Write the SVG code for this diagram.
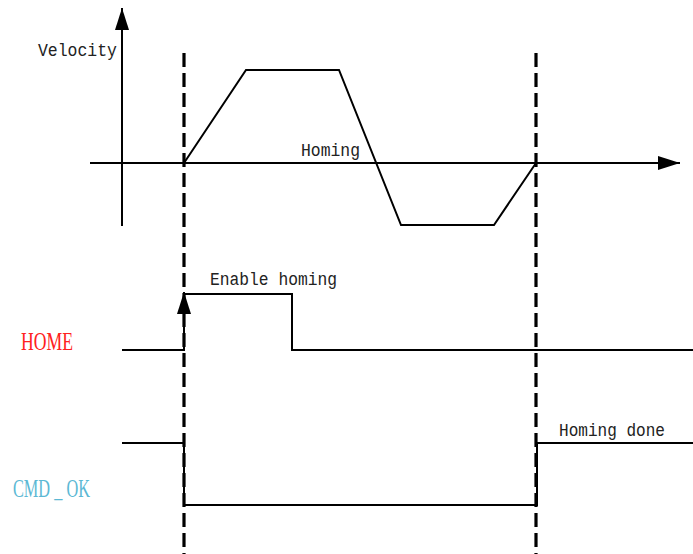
<svg xmlns="http://www.w3.org/2000/svg" width="693" height="554" viewBox="0 0 693 554">
<style>
.ln{fill:none;stroke:#000;stroke-width:2}
.ds{fill:none;stroke:#000;stroke-width:3.2;stroke-dasharray:14 6}
.t{font-family:"Liberation Mono",monospace;font-size:19px;fill:#222}
.lbl{font-family:"Liberation Serif",serif;font-size:26px}
</style>
<defs>
<marker id="ah" viewBox="0 0 22 14" refX="22" refY="7" markerWidth="22" markerHeight="14" markerUnits="userSpaceOnUse" orient="auto">
<path d="M0,0 L22,7 L0,14 Z" fill="#000"/>
</marker>
</defs>
<rect width="693" height="554" fill="#fff"/>
<g id="connectors">
<line class="ln" x1="122" y1="226" x2="122" y2="8" marker-end="url(#ah)"/>
<line class="ln" x1="90" y1="163" x2="680" y2="163" marker-end="url(#ah)"/>
<polyline class="ln" points="184,163 246,70 339,70 401,225 494,225 536,163"/>
<polyline class="ln" points="122,350 184,350 184,294 292,294 292,350 693,350"/>
<line class="ln" x1="184" y1="330" x2="184" y2="292" marker-end="url(#ah)"/>
<polyline class="ln" points="122,443 184,443 184,505 537,505 537,443 693,443"/>
<line class="ds" x1="184" y1="53" x2="184" y2="554"/>
<line class="ds" x1="536" y1="53" x2="536" y2="554"/>
</g>
<g id="labels">
<text class="t" x="38" y="56" textLength="79" lengthAdjust="spacingAndGlyphs">Velocity</text>
<text class="t" x="301" y="156" textLength="59" lengthAdjust="spacingAndGlyphs">Homing</text>
<text class="t" x="210" y="285" textLength="127" lengthAdjust="spacingAndGlyphs">Enable homing</text>
<text class="t" x="559" y="436" textLength="106" lengthAdjust="spacingAndGlyphs">Homing done</text>
<text class="lbl" x="21" y="350" fill="#ff2020" textLength="52" lengthAdjust="spacingAndGlyphs">HOME</text>
<text class="lbl" x="13" y="497" fill="#5bb8d4" font-size="21" textLength="77" lengthAdjust="spacingAndGlyphs">CMD _ OK</text>
</g>
</svg>
